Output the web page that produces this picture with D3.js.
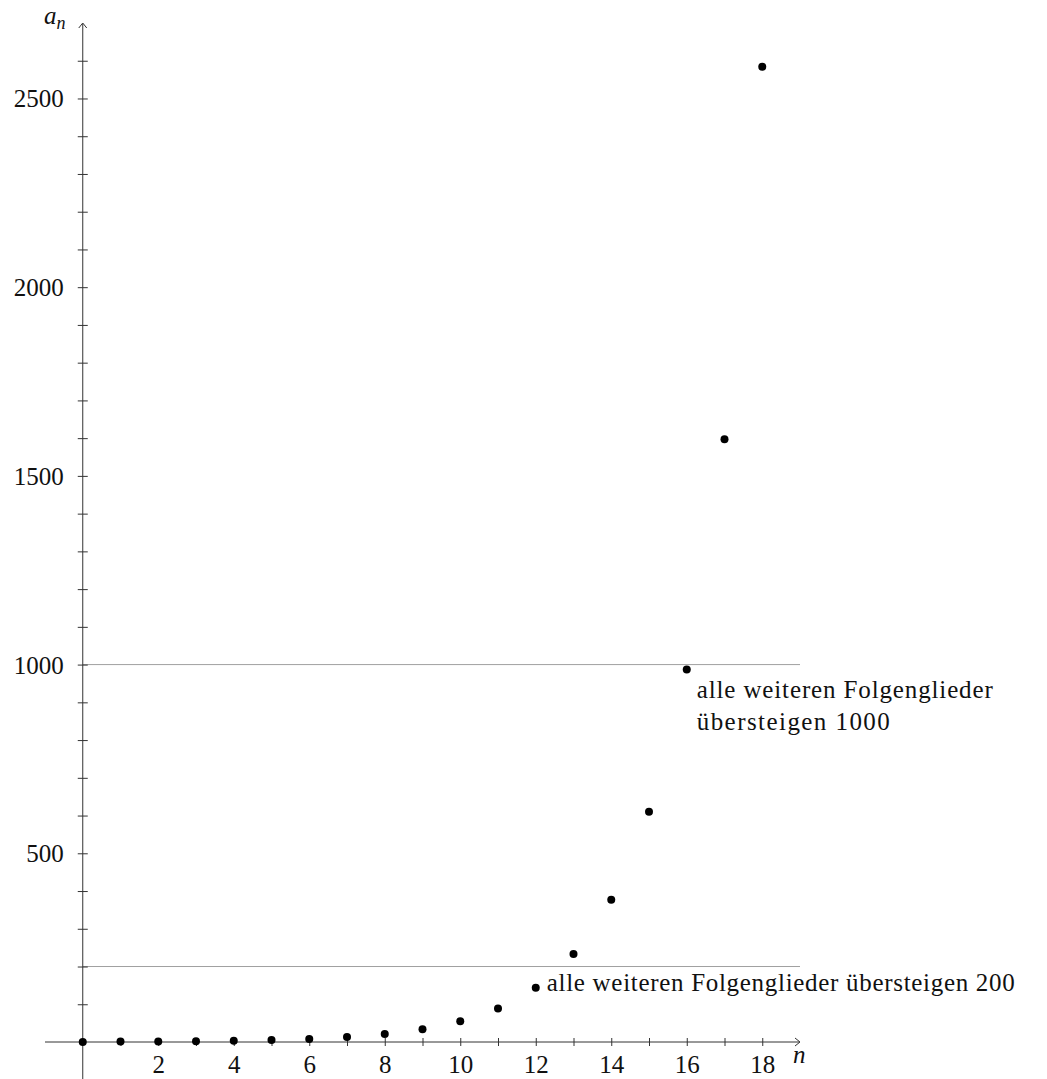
<!DOCTYPE html>
<html>
<head>
<meta charset="utf-8">
<script src="https://cdn.jsdelivr.net/npm/d3@7"></script>
<style>
  body { margin: 0; background: #fff; }
  svg text { font-family: "Liberation Serif", "DejaVu Serif", serif; fill: #111; }
</style>
</head>
<body>
<div id="chart"></div>
<script>
"use strict";

// sequence values a_n
var nValues = [0, 1, 2, 3, 4, 5, 6, 7, 8, 9, 10, 11, 12, 13, 14, 15, 16, 17, 18];
var aValues = [0, 1, 1, 2, 3, 5, 8, 13, 21, 34, 55, 89, 144, 233, 377, 610, 987, 1597, 2584];

var xTicks = [1, 2, 3, 4, 5, 6, 7, 8, 9, 10, 11, 12, 13, 14, 15, 16, 17, 18];
var xLabels = [2, 4, 6, 8, 10, 12, 14, 16, 18];
var yTicks = d3.range(100, 2700, 100);
var yLabels = [500, 1000, 1500, 2000, 2500];

var thresholds = [200, 1000];

var width = 1047,
    height = 1079;

var svg = d3.select("#chart")
            .append("svg")
            .attr("width", width)
            .attr("height", height)

var x = d3.scaleLinear().domain([-1, 19]).range([45, 800]);
var y = d3.scaleLinear().domain([0, 2700]).range([1042, 23]);

var axisColor = "#333";
var fontSize = 25;

// threshold lines
svg.selectAll(".threshold")
    .data(thresholds)
    .enter()
    .append("line")
    .attr("class", "threshold")
    .attr("x1", x(0))
    .attr("x2", x(19))
    .attr("y1", function(d) { return y(d) })
    .attr("y2", function(d) { return y(d) })
    .attr("stroke", "#a0a0a0")
    .attr("stroke-width", 1)

// x axis
var xAxis = svg.append("g")
    .attr("transform", "translate(0," + y(0) + ")")
    .call(d3.axisBottom(x).tickValues(xTicks).tickSize(4)
        .tickFormat(function(d) { return xLabels.indexOf(d) >= 0 ? d : "" }))
xAxis.select(".domain").remove()
xAxis.selectAll(".tick line").attr("y1", -4).attr("y2", 4).attr("stroke", axisColor)
xAxis.selectAll(".tick text")
    .attr("y", 31)
    .attr("dy", 0)
    .attr("font-size", fontSize)
xAxis.attr("font-family", null).attr("font-size", null)

xAxis.append("line")
    .attr("x1", x(-1)).attr("x2", x(19) - 1)
    .attr("stroke", axisColor).attr("stroke-width", 1)
xAxis.append("path")
    .attr("d", "M" + (x(19) - 5) + ",-4 L" + x(19) + ",0 L" + (x(19) - 5) + ",4")
    .attr("fill", "none").attr("stroke", axisColor).attr("stroke-width", 1)

// y axis
var yAxis = svg.append("g")
    .attr("transform", "translate(" + x(0) + ",0)")
    .call(d3.axisLeft(y).tickValues(yTicks).tickSize(5)
        .tickFormat(function(d) { return yLabels.indexOf(d) >= 0 ? d : "" }))
yAxis.select(".domain").remove()
yAxis.selectAll(".tick line").attr("x1", -5).attr("x2", 5).attr("stroke", axisColor)
yAxis.selectAll(".tick text")
    .attr("x", -19)
    .attr("dy", "0.34em")
    .attr("font-size", fontSize)
yAxis.attr("font-family", null).attr("font-size", null)

yAxis.append("line")
    .attr("y1", height).attr("y2", y(2700) + 1)
    .attr("stroke", axisColor).attr("stroke-width", 1)
yAxis.append("path")
    .attr("d", "M-4," + (y(2700) + 5) + " L0," + y(2700) + " L4," + (y(2700) + 5))
    .attr("fill", "none").attr("stroke", axisColor).attr("stroke-width", 1)

// axis titles
svg.append("text")
    .attr("x", 44).attr("y", 24)
    .attr("font-size", fontSize).attr("font-style", "italic")
    .text("a")
    .append("tspan")
    .attr("dy", 5).attr("font-size", 18)
    .text("n")

svg.append("text")
    .attr("x", 793).attr("y", y(0) + 21)
    .attr("font-size", fontSize).attr("font-style", "italic")
    .text("n")

// points
svg.selectAll(".point")
    .data(nValues)
    .enter()
    .append("circle")
    .attr("class", "point")
    .attr("r", 4)
    .attr("cx", function(d) { return x(d) })
    .attr("cy", function(d, i) { return y(aValues[i]) })
    .attr("fill", "#000")

// annotations
svg.append("text")
    .attr("x", x(12) + 11).attr("y", y(144) + 3)
    .attr("font-size", fontSize)
    .attr("textLength", 468).attr("lengthAdjust", "spacing")
    .text("alle weiteren Folgenglieder übersteigen 200")

var note = svg.append("text")
    .attr("x", x(16) + 10).attr("y", y(987) + 29)
    .attr("font-size", fontSize)
note.append("tspan")
    .attr("textLength", 296).attr("lengthAdjust", "spacing")
    .text("alle weiteren Folgenglieder")
note.append("tspan")
    .attr("x", x(16) + 10).attr("dy", 32)
    .attr("textLength", 193).attr("lengthAdjust", "spacing")
    .text("übersteigen 1000")
</script>
</body>
</html>
